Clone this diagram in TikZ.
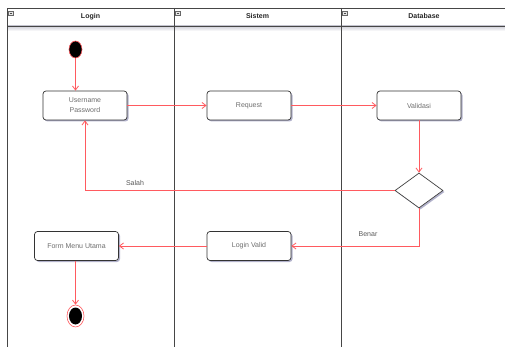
\documentclass[tikz,border=0pt]{standalone}
\usepackage{fontspec}
\setmainfont{Liberation Sans}
\usetikzlibrary{arrows.meta,shapes.geometric,shadows}
\definecolor{flow}{RGB}{255,90,95}
\definecolor{lane}{RGB}{70,70,70}
\definecolor{boxtext}{RGB}{110,110,110}
\tikzset{
  x=1pt,y=-1pt,
  lanel/.style={draw=lane,line width=0.8pt},
  actbox/.style={draw=black!80,line width=0.7pt,rounded corners=3pt,fill=white,
    minimum width=84pt,minimum height=29pt,inner sep=1pt,align=center,
    font=\fontsize{7}{10}\selectfont,text=boxtext,
    drop shadow={shadow xshift=1.5pt,shadow yshift=-1.5pt,fill=blue!20!gray,opacity=0.5}},
  dec/.style={diamond,draw=black!75,line width=0.7pt,fill=white,minimum width=48pt,minimum height=35pt,inner sep=0pt,aspect=1.37},
  flowline/.style={draw=flow,line width=0.8pt,-{Straight Barb[length=4pt,width=6pt]}},
  hdr/.style={font=\bfseries\fontsize{7}{8}\selectfont,text=black!85},
  lbl/.style={font=\fontsize{7}{8}\selectfont,text=black!65},
  icon/.style={draw=black!60,fill=black!10,line width=0.4pt,minimum width=5pt,minimum height=4pt,inner sep=0pt}
}
\begin{document}
\begin{tikzpicture}
\useasboundingbox (0,0) rectangle (505,347);
% swimlanes
\fill[white] (0,0) rectangle (505,347);
\shade[top color=blue!10!gray!35,bottom color=white] (7,26) rectangle (505,31);
\draw[lanel] (505,8) -- (7,8) -- (7,347);
\draw[lanel] (7,26) -- (505,26);
\draw[lanel] (174,8) -- (174,347);
\draw[lanel] (341,8) -- (341,347);
\node[hdr] (h1) at (90.5,16.5) {Login};
\node[hdr] (h2) at (257.5,16.5) {Sistem};
\node[hdr] (h3) at (424,16.5) {Database};
\node[icon] (i1) at (11,13.5) {};
\node[icon] (i2) at (178,13.5) {};
\node[icon] (i3) at (345,13.5) {};
\foreach \n in {i1,i2,i3} \draw[black!70,line width=0.4pt] ([xshift=1pt]\n.center) -- ([xshift=-1pt]\n.center);
% start
\node[ellipse,fill=black,draw=flow,line width=0.6pt,minimum width=13pt,minimum height=17pt,inner sep=0pt] (start) at (75.5,49.5) {};
% activities
\node[actbox] (user) at (85,105.5) {Username\\Password};
\node[actbox] (req) at (249,105.5) {Request};
\node[actbox] (val) at (419,105.5) {Validasi};
\node[dec,drop shadow={shadow xshift=1.5pt,shadow yshift=-1.5pt,fill=blue!20!gray,opacity=0.5}] (d) at (419,190.5) {};
\node[actbox] (lv) at (249,246) {Login Valid};
\node[actbox] (fmu) at (76.5,246) {Form Menu Utama};
% end
\node[ellipse,draw=flow,line width=0.6pt,fill=white,minimum width=17pt,minimum height=22pt,inner sep=0pt] (end) at (75.5,316) {};
\node[ellipse,fill=black,minimum width=13pt,minimum height=17pt,inner sep=0pt] (endin) at (75.5,316) {};
% flows
\draw[flowline] (start) -- (user.north -| start);
\draw[flowline] (user) -- (req);
\draw[flowline] (req) -- (val);
\draw[flowline] (val) -- (d.north);
\draw[flowline] (d.west) -- (85,190.5) -- (user.south);
\node[lbl] (salah) at (135,183) {Salah};
\draw[flowline] (d.south) |- (lv.east);
\node[lbl] (benar) at (368,234) {Benar};
\draw[flowline] (lv) -- (fmu);
\draw[flowline] (fmu.south -| end) -- (end.north);
\end{tikzpicture}
\end{document}
